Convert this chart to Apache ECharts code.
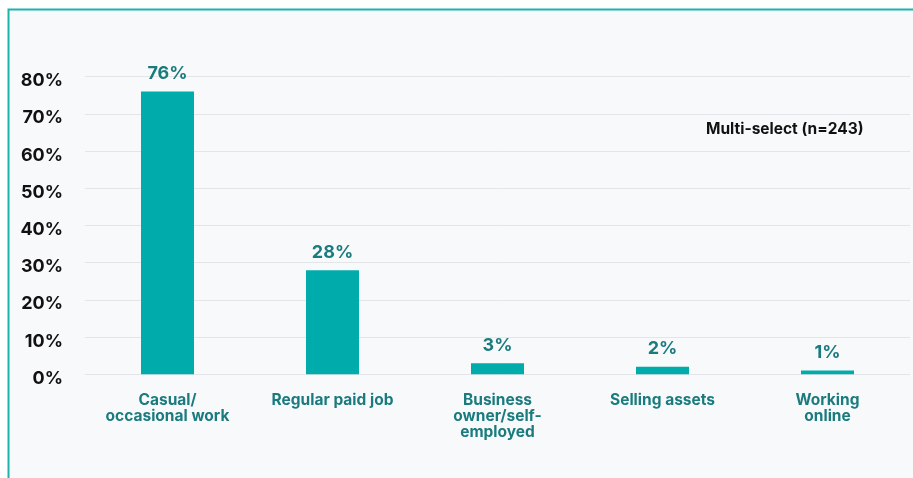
<!DOCTYPE html>
<html>
<head>
<meta charset="utf-8">
<script src="https://cdn.jsdelivr.net/npm/echarts@6/dist/echarts.min.js"></script>
<style>
  html, body { margin: 0; padding: 0; background: #ffffff; }
  #chart { width: 913px; height: 478px; }
</style>
</head>
<body>
<div id="chart"></div>
<script>
// Income sources, share of respondents (multi-select)
const categories = [
  'Casual/\noccasional work',
  'Regular paid job',
  'Business\nowner/self-\nemployed',
  'Selling assets',
  'Working\nonline'
];
const shares = [76, 28, 3, 2, 1];
const yTicks = [0, 10, 20, 30, 40, 50, 60, 70, 80];
const noteText = 'Multi-select (n=243)';

const FONT = 'Inter, "Noto Sans", sans-serif';
const TEAL_BAR = '#00abab';
const TEAL_TEXT = '#1a7b7e';
const FRAME = '#1db3ad';

const chart = echarts.init(document.getElementById('chart'), null, { renderer: 'canvas' });

chart.setOption({
  animation: false,
  backgroundColor: '#ffffff',
  textStyle: { fontFamily: FONT },
  graphic: [
    { type: 'rect', z: -10, silent: true,
      shape: { x: 8.5, y: 9.5, width: 920, height: 480 },
      style: { fill: '#f8f9fb', stroke: FRAME, lineWidth: 2 } },
    { type: 'text', left: 706, top: 121, silent: true,
      style: { text: noteText, fill: '#111111', font: 'bold 15.5px ' + FONT } }
  ],
  grid: { left: 85, right: 3, top: 76.7, bottom: 478 - 374.3, containLabel: false },
  xAxis: {
    type: 'category',
    data: categories,
    axisLine: { show: false },
    axisTick: { show: false },
    axisLabel: {
      color: TEAL_TEXT, fontFamily: FONT, fontWeight: 'bold', fontSize: 15.5,
      lineHeight: 16, margin: 18, interval: 0, align: 'center'
    }
  },
  yAxis: {
    type: 'value',
    min: yTicks[0],
    max: yTicks[yTicks.length - 1],
    interval: yTicks[1] - yTicks[0],
    axisLine: { show: false },
    axisTick: { show: false },
    splitLine: { lineStyle: { color: '#e3e5e9', width: 1 } },
    axisLabel: {
      margin: 22,
      formatter: v => '{t|' + v + '%}',
      rich: {
        t: {
          color: '#111111', fontFamily: FONT, fontWeight: 'bold', fontSize: 18,
          padding: [8, 0, 0, 0]
        }
      }
    }
  },
  series: [{
    type: 'bar',
    data: shares,
    barWidth: 53,
    itemStyle: { color: TEAL_BAR },
    label: {
      show: true, position: 'top', distance: 9,
      color: TEAL_TEXT, fontFamily: FONT, fontWeight: 'bold', fontSize: 18,
      formatter: p => p.value + '%'
    }
  }]
});
</script>
</body>
</html>
